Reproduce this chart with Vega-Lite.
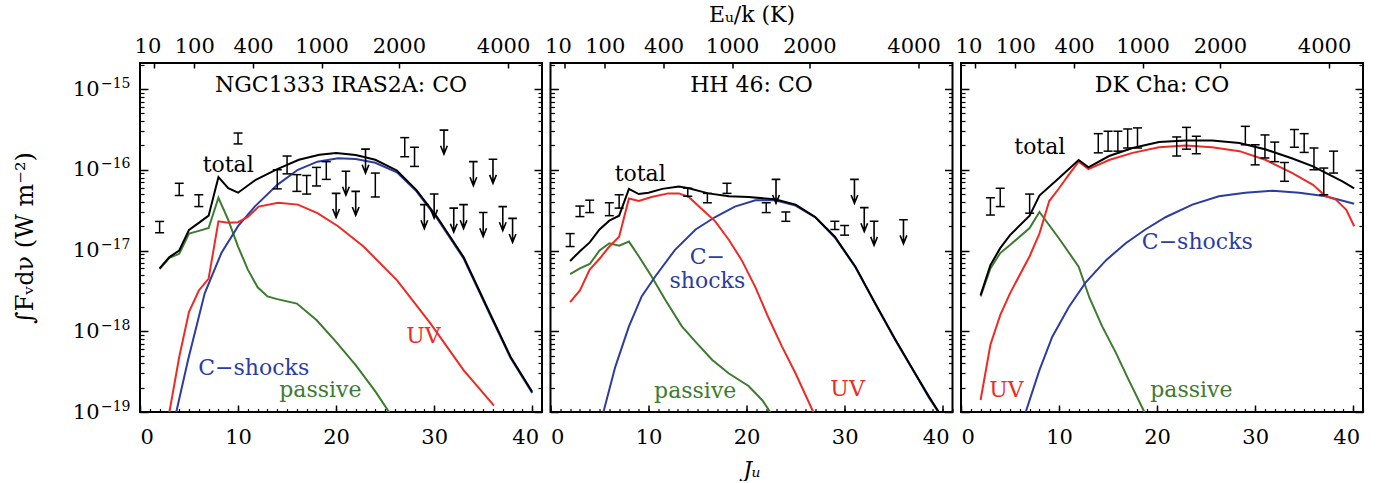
{
"$schema": "https://vega.github.io/schema/vega-lite/v6.json",
"padding": {"left": 12, "top": 2, "right": 5, "bottom": 0},
"background": "white",
"bounds": "flush",
"spacing": 8.5,
"config": {
  "view": {"stroke": "black", "strokeWidth": 2},
  "axis": {"domain": false, "grid": false, "tickColor": "black", "tickWidth": 1.5, "labelColor": "black", "titleColor": "black", "labelFont": "DejaVu Serif", "labelFontSize": 21, "titleFont": "DejaVu Serif", "titleFontSize": 22, "titleFontWeight": "normal"}
},
"datasets": {
"curves": [
{"p":1,"s":"passive","J":2,"F":5.9e-18},{"p":1,"s":"passive","J":3,"F":8.1e-18},{"p":1,"s":"passive","J":4,"F":9.1e-18},{"p":1,"s":"passive","J":5,"F":1.62e-17},{"p":1,"s":"passive","J":6,"F":1.75e-17},{"p":1,"s":"passive","J":7,"F":1.9e-17},{"p":1,"s":"passive","J":8,"F":4.5e-17},{"p":1,"s":"passive","J":9,"F":2.4e-17},{"p":1,"s":"passive","J":10,"F":1.12e-17},{"p":1,"s":"passive","J":11,"F":5.8e-18},{"p":1,"s":"passive","J":12,"F":3.5e-18},{"p":1,"s":"passive","J":13,"F":2.7e-18},{"p":1,"s":"passive","J":14,"F":2.5e-18},{"p":1,"s":"passive","J":16,"F":2.2e-18},{"p":1,"s":"passive","J":18,"F":1.38e-18},{"p":1,"s":"passive","J":20,"F":7.4e-19},{"p":1,"s":"passive","J":22,"F":3.8e-19},{"p":1,"s":"passive","J":24,"F":1.8e-19},{"p":1,"s":"passive","J":25.4,"F":1.0e-19},{"p":1,"s":"passive","J":26,"F":7e-20},
{"p":1,"s":"C-shocks","J":3.5,"F":8e-20},{"p":1,"s":"C-shocks","J":3.7,"F":1.0e-19},{"p":1,"s":"C-shocks","J":4.9,"F":4.4e-19},{"p":1,"s":"C-shocks","J":6.6,"F":2.95e-18},{"p":1,"s":"C-shocks","J":8.3,"F":9.3e-18},{"p":1,"s":"C-shocks","J":10,"F":2.0e-17},{"p":1,"s":"C-shocks","J":11.7,"F":3.5e-17},{"p":1,"s":"C-shocks","J":14,"F":6.5e-17},{"p":1,"s":"C-shocks","J":16.1,"F":1.0e-16},{"p":1,"s":"C-shocks","J":18.1,"F":1.26e-16},{"p":1,"s":"C-shocks","J":20.2,"F":1.39e-16},{"p":1,"s":"C-shocks","J":22,"F":1.36e-16},{"p":1,"s":"C-shocks","J":24,"F":1.22e-16},{"p":1,"s":"C-shocks","J":26.2,"F":9.3e-17},{"p":1,"s":"C-shocks","J":28.2,"F":5.4e-17},{"p":1,"s":"C-shocks","J":30.3,"F":2.5e-17},{"p":1,"s":"C-shocks","J":33,"F":8.0e-18},{"p":1,"s":"C-shocks","J":35.7,"F":1.6e-18},{"p":1,"s":"C-shocks","J":37.8,"F":4.65e-19},{"p":1,"s":"C-shocks","J":40,"F":1.72e-19},
{"p":1,"s":"UV","J":2.9,"F":8e-20},{"p":1,"s":"UV","J":3,"F":1.0e-19},{"p":1,"s":"UV","J":4,"F":4.8e-19},{"p":1,"s":"UV","J":5,"F":1.74e-18},{"p":1,"s":"UV","J":6,"F":3.2e-18},{"p":1,"s":"UV","J":7,"F":4.5e-18},{"p":1,"s":"UV","J":8,"F":2.3e-17},{"p":1,"s":"UV","J":9,"F":2.2e-17},{"p":1,"s":"UV","J":10,"F":2.24e-17},{"p":1,"s":"UV","J":11,"F":2.6e-17},{"p":1,"s":"UV","J":12.1,"F":3.5e-17},{"p":1,"s":"UV","J":14.1,"F":3.9e-17},{"p":1,"s":"UV","J":16.1,"F":3.7e-17},{"p":1,"s":"UV","J":18.1,"F":2.9e-17},{"p":1,"s":"UV","J":20.2,"F":2.0e-17},{"p":1,"s":"UV","J":22.8,"F":1.12e-17},{"p":1,"s":"UV","J":26.2,"F":4.3e-18},{"p":1,"s":"UV","J":29.6,"F":1.26e-18},{"p":1,"s":"UV","J":33,"F":3.3e-19},{"p":1,"s":"UV","J":36.1,"F":1.2e-19},
{"p":1,"s":"total","J":2,"F":6.0e-18},{"p":1,"s":"total","J":3,"F":8.3e-18},{"p":1,"s":"total","J":4,"F":1.0e-17},{"p":1,"s":"total","J":5,"F":1.8e-17},{"p":1,"s":"total","J":6,"F":2.2e-17},{"p":1,"s":"total","J":7,"F":2.7e-17},{"p":1,"s":"total","J":8,"F":8.1e-17},{"p":1,"s":"total","J":9,"F":5.9e-17},{"p":1,"s":"total","J":10,"F":5.2e-17},{"p":1,"s":"total","J":11.8,"F":7.5e-17},{"p":1,"s":"total","J":14,"F":1.02e-16},{"p":1,"s":"total","J":16.2,"F":1.33e-16},{"p":1,"s":"total","J":18.3,"F":1.53e-16},{"p":1,"s":"total","J":20,"F":1.61e-16},{"p":1,"s":"total","J":22,"F":1.52e-16},{"p":1,"s":"total","J":24,"F":1.33e-16},{"p":1,"s":"total","J":26.2,"F":9.8e-17},{"p":1,"s":"total","J":28.2,"F":5.6e-17},{"p":1,"s":"total","J":30.3,"F":2.6e-17},{"p":1,"s":"total","J":33,"F":8.3e-18},{"p":1,"s":"total","J":35.7,"F":1.66e-18},{"p":1,"s":"total","J":37.8,"F":4.8e-19},{"p":1,"s":"total","J":40,"F":1.78e-19},
{"p":2,"s":"passive","J":2,"F":5.1e-18},{"p":2,"s":"passive","J":3,"F":6.0e-18},{"p":2,"s":"passive","J":4,"F":6.8e-18},{"p":2,"s":"passive","J":5,"F":1.0e-17},{"p":2,"s":"passive","J":6,"F":1.23e-17},{"p":2,"s":"passive","J":7,"F":1.15e-17},{"p":2,"s":"passive","J":8,"F":1.29e-17},{"p":2,"s":"passive","J":9,"F":8.5e-18},{"p":2,"s":"passive","J":10.3,"F":4.8e-18},{"p":2,"s":"passive","J":11.7,"F":2.45e-18},{"p":2,"s":"passive","J":13.4,"F":1.15e-18},{"p":2,"s":"passive","J":14.8,"F":7.4e-19},{"p":2,"s":"passive","J":16.5,"F":4.4e-19},{"p":2,"s":"passive","J":18.2,"F":3.0e-19},{"p":2,"s":"passive","J":20.2,"F":2.1e-19},{"p":2,"s":"passive","J":21.6,"F":1.4e-19},{"p":2,"s":"passive","J":22.4,"F":1.0e-19},{"p":2,"s":"passive","J":22.8,"F":8e-20},
{"p":2,"s":"C-shocks","J":5.2,"F":8e-20},{"p":2,"s":"C-shocks","J":5.4,"F":1.0e-19},{"p":2,"s":"C-shocks","J":6.6,"F":3.6e-19},{"p":2,"s":"C-shocks","J":8,"F":1.15e-18},{"p":2,"s":"C-shocks","J":9.3,"F":2.7e-18},{"p":2,"s":"C-shocks","J":10.7,"F":4.8e-18},{"p":2,"s":"C-shocks","J":12.7,"F":1.02e-17},{"p":2,"s":"C-shocks","J":14.8,"F":1.82e-17},{"p":2,"s":"C-shocks","J":16.8,"F":2.6e-17},{"p":2,"s":"C-shocks","J":18.8,"F":3.5e-17},{"p":2,"s":"C-shocks","J":20.9,"F":4.2e-17},{"p":2,"s":"C-shocks","J":22.9,"F":4.2e-17},{"p":2,"s":"C-shocks","J":25,"F":3.6e-17},{"p":2,"s":"C-shocks","J":27,"F":2.57e-17},{"p":2,"s":"C-shocks","J":29,"F":1.45e-17},{"p":2,"s":"C-shocks","J":31.1,"F":6.2e-18},{"p":2,"s":"C-shocks","J":33.1,"F":2.2e-18},{"p":2,"s":"C-shocks","J":35.2,"F":7.6e-19},{"p":2,"s":"C-shocks","J":37.2,"F":2.95e-19},{"p":2,"s":"C-shocks","J":38.6,"F":1.5e-19},{"p":2,"s":"C-shocks","J":39.6,"F":9.8e-20},{"p":2,"s":"C-shocks","J":40,"F":8e-20},
{"p":2,"s":"UV","J":2,"F":2.3e-18},{"p":2,"s":"UV","J":3,"F":3.2e-18},{"p":2,"s":"UV","J":4,"F":5.8e-18},{"p":2,"s":"UV","J":5,"F":7.9e-18},{"p":2,"s":"UV","J":6,"F":1.12e-17},{"p":2,"s":"UV","J":7,"F":1.48e-17},{"p":2,"s":"UV","J":8,"F":4.4e-17},{"p":2,"s":"UV","J":9,"F":4.1e-17},{"p":2,"s":"UV","J":10.3,"F":4.6e-17},{"p":2,"s":"UV","J":12,"F":5.1e-17},{"p":2,"s":"UV","J":13.1,"F":5.1e-17},{"p":2,"s":"UV","J":14.1,"F":4.6e-17},{"p":2,"s":"UV","J":15.4,"F":3.3e-17},{"p":2,"s":"UV","J":16.8,"F":2.3e-17},{"p":2,"s":"UV","J":18.2,"F":1.35e-17},{"p":2,"s":"UV","J":19.5,"F":7.6e-18},{"p":2,"s":"UV","J":20.9,"F":3.5e-18},{"p":2,"s":"UV","J":22.2,"F":1.5e-18},{"p":2,"s":"UV","J":23.6,"F":6.5e-19},{"p":2,"s":"UV","J":25,"F":3.0e-19},{"p":2,"s":"UV","J":26.8,"F":1.0e-19},{"p":2,"s":"UV","J":27.2,"F":8e-20},
{"p":2,"s":"total","J":2,"F":7.4e-18},{"p":2,"s":"total","J":3,"F":9.8e-18},{"p":2,"s":"total","J":4,"F":1.26e-17},{"p":2,"s":"total","J":5,"F":1.82e-17},{"p":2,"s":"total","J":6,"F":2.34e-17},{"p":2,"s":"total","J":7,"F":2.7e-17},{"p":2,"s":"total","J":8,"F":5.8e-17},{"p":2,"s":"total","J":9,"F":5.0e-17},{"p":2,"s":"total","J":10,"F":5.2e-17},{"p":2,"s":"total","J":11.4,"F":5.8e-17},{"p":2,"s":"total","J":13.1,"F":6.2e-17},{"p":2,"s":"total","J":14.1,"F":5.9e-17},{"p":2,"s":"total","J":16.1,"F":5.1e-17},{"p":2,"s":"total","J":18.2,"F":4.7e-17},{"p":2,"s":"total","J":20.2,"F":4.6e-17},{"p":2,"s":"total","J":22.9,"F":4.3e-17},{"p":2,"s":"total","J":25,"F":3.7e-17},{"p":2,"s":"total","J":27,"F":2.6e-17},{"p":2,"s":"total","J":29,"F":1.48e-17},{"p":2,"s":"total","J":31.1,"F":6.3e-18},{"p":2,"s":"total","J":33.1,"F":2.24e-18},{"p":2,"s":"total","J":35.2,"F":7.8e-19},{"p":2,"s":"total","J":37.2,"F":3.0e-19},{"p":2,"s":"total","J":38.6,"F":1.55e-19},{"p":2,"s":"total","J":39.6,"F":1.0e-19},{"p":2,"s":"total","J":40,"F":8e-20},
{"p":3,"s":"passive","J":2,"F":2.7e-18},{"p":3,"s":"passive","J":3,"F":6.0e-18},{"p":3,"s":"passive","J":4,"F":9.3e-18},{"p":3,"s":"passive","J":5,"F":1.17e-17},{"p":3,"s":"passive","J":7,"F":1.9e-17},{"p":3,"s":"passive","J":8,"F":3.0e-17},{"p":3,"s":"passive","J":10,"F":1.41e-17},{"p":3,"s":"passive","J":12,"F":6.3e-18},{"p":3,"s":"passive","J":13.1,"F":2.6e-18},{"p":3,"s":"passive","J":14.4,"F":1.15e-18},{"p":3,"s":"passive","J":15.8,"F":5.4e-19},{"p":3,"s":"passive","J":17.1,"F":2.5e-19},{"p":3,"s":"passive","J":18.7,"F":1.0e-19},{"p":3,"s":"passive","J":19,"F":8e-20},
{"p":3,"s":"C-shocks","J":6.4,"F":8e-20},{"p":3,"s":"C-shocks","J":6.6,"F":1.0e-19},{"p":3,"s":"C-shocks","J":8,"F":3.3e-19},{"p":3,"s":"C-shocks","J":9.3,"F":8.5e-19},{"p":3,"s":"C-shocks","J":11,"F":2.0e-18},{"p":3,"s":"C-shocks","J":12.7,"F":4.0e-18},{"p":3,"s":"C-shocks","J":14.8,"F":7.6e-18},{"p":3,"s":"C-shocks","J":16.8,"F":1.23e-17},{"p":3,"s":"C-shocks","J":18.8,"F":1.82e-17},{"p":3,"s":"C-shocks","J":20.9,"F":2.6e-17},{"p":3,"s":"C-shocks","J":23.6,"F":3.7e-17},{"p":3,"s":"C-shocks","J":26.3,"F":4.7e-17},{"p":3,"s":"C-shocks","J":29,"F":5.2e-17},{"p":3,"s":"C-shocks","J":31.8,"F":5.5e-17},{"p":3,"s":"C-shocks","J":34.5,"F":5.2e-17},{"p":3,"s":"C-shocks","J":37.2,"F":4.7e-17},{"p":3,"s":"C-shocks","J":40.1,"F":3.8e-17},
{"p":3,"s":"UV","J":2,"F":1.41e-19},{"p":3,"s":"UV","J":3,"F":6.8e-19},{"p":3,"s":"UV","J":4,"F":1.58e-18},{"p":3,"s":"UV","J":5,"F":2.95e-18},{"p":3,"s":"UV","J":7,"F":8.5e-18},{"p":3,"s":"UV","J":8,"F":1.62e-17},{"p":3,"s":"UV","J":9,"F":4.1e-17},{"p":3,"s":"UV","J":10,"F":5.9e-17},{"p":3,"s":"UV","J":11,"F":8.7e-17},{"p":3,"s":"UV","J":12,"F":1.26e-16},{"p":3,"s":"UV","J":13,"F":1.02e-16},{"p":3,"s":"UV","J":15.1,"F":1.32e-16},{"p":3,"s":"UV","J":17.5,"F":1.62e-16},{"p":3,"s":"UV","J":20.2,"F":1.9e-16},{"p":3,"s":"UV","J":22.9,"F":2.0e-16},{"p":3,"s":"UV","J":25.6,"F":1.9e-16},{"p":3,"s":"UV","J":28.4,"F":1.7e-16},{"p":3,"s":"UV","J":31.1,"F":1.32e-16},{"p":3,"s":"UV","J":33.8,"F":9.1e-17},{"p":3,"s":"UV","J":35.9,"F":6.5e-17},{"p":3,"s":"UV","J":37.2,"F":4.7e-17},{"p":3,"s":"UV","J":38.2,"F":4.3e-17},{"p":3,"s":"UV","J":39.3,"F":3.2e-17},{"p":3,"s":"UV","J":40.1,"F":2.0e-17},
{"p":3,"s":"total","J":2,"F":2.8e-18},{"p":3,"s":"total","J":3,"F":6.6e-18},{"p":3,"s":"total","J":4,"F":1.07e-17},{"p":3,"s":"total","J":5,"F":1.55e-17},{"p":3,"s":"total","J":7,"F":2.7e-17},{"p":3,"s":"total","J":8,"F":4.8e-17},{"p":3,"s":"total","J":10,"F":7.9e-17},{"p":3,"s":"total","J":12,"F":1.32e-16},{"p":3,"s":"total","J":13,"F":1.07e-16},{"p":3,"s":"total","J":15.1,"F":1.48e-16},{"p":3,"s":"total","J":17.5,"F":1.86e-16},{"p":3,"s":"total","J":20.2,"F":2.2e-16},{"p":3,"s":"total","J":22.9,"F":2.3e-16},{"p":3,"s":"total","J":25.6,"F":2.3e-16},{"p":3,"s":"total","J":28.4,"F":2.14e-16},{"p":3,"s":"total","J":31.1,"F":1.78e-16},{"p":3,"s":"total","J":33.8,"F":1.38e-16},{"p":3,"s":"total","J":35.9,"F":1.1e-16},{"p":3,"s":"total","J":37.9,"F":8.3e-17},{"p":3,"s":"total","J":38.9,"F":7.2e-17},{"p":3,"s":"total","J":40.1,"F":5.9e-17}
],
"obs": [
{"p":1,"J":2,"F":2.0e-17,"lo":1.66e-17,"hi":2.29e-17},{"p":1,"J":4,"F":5.6e-17,"lo":4.8e-17,"hi":6.8e-17},{"p":1,"J":6,"F":4.2e-17,"lo":3.5e-17,"hi":4.9e-17},{"p":1,"J":10,"F":2.45e-16,"lo":2.09e-16,"hi":2.85e-16},{"p":1,"J":14,"F":7.6e-17,"lo":5.8e-17,"hi":1.0e-16},{"p":1,"J":15,"F":1.15e-16,"lo":8.9e-17,"hi":1.48e-16},{"p":1,"J":16,"F":6.9e-17,"lo":5.4e-17,"hi":8.7e-17},{"p":1,"J":17,"F":6.6e-17,"lo":5.0e-17,"hi":8.5e-17},{"p":1,"J":18,"F":8.2e-17,"lo":6.3e-17,"hi":1.07e-16},{"p":1,"J":19,"F":9.8e-17,"lo":7.6e-17,"hi":1.26e-16},{"p":1,"J":24,"F":6.4e-17,"lo":4.6e-17,"hi":9.1e-17},{"p":1,"J":27,"F":1.9e-16,"lo":1.45e-16,"hi":2.5e-16},{"p":1,"J":28,"F":1.45e-16,"lo":1.1e-16,"hi":1.9e-16},
{"p":2,"J":2,"F":1.35e-17,"lo":1.12e-17,"hi":1.62e-17},{"p":2,"J":3,"F":3.0e-17,"lo":2.63e-17,"hi":3.55e-17},{"p":2,"J":4,"F":3.55e-17,"lo":2.95e-17,"hi":4.2e-17},{"p":2,"J":6,"F":3.2e-17,"lo":2.7e-17,"hi":3.9e-17},{"p":2,"J":7,"F":4.1e-17,"lo":3.35e-17,"hi":4.9e-17},{"p":2,"J":14,"F":5.2e-17,"lo":4.7e-17,"hi":5.9e-17},{"p":2,"J":16,"F":4.5e-17,"lo":3.9e-17,"hi":5.1e-17},{"p":2,"J":18,"F":5.9e-17,"lo":5.1e-17,"hi":6.8e-17},{"p":2,"J":22,"F":3.4e-17,"lo":2.95e-17,"hi":3.9e-17},{"p":2,"J":24,"F":2.6e-17,"lo":2.3e-17,"hi":3.0e-17},{"p":2,"J":29,"F":2.05e-17,"lo":1.82e-17,"hi":2.3e-17},{"p":2,"J":30,"F":1.78e-17,"lo":1.55e-17,"hi":2.04e-17},
{"p":3,"J":3,"F":3.5e-17,"lo":2.75e-17,"hi":4.5e-17},{"p":3,"J":4,"F":4.6e-17,"lo":3.5e-17,"hi":5.9e-17},{"p":3,"J":7,"F":3.8e-17,"lo":2.9e-17,"hi":5.0e-17},{"p":3,"J":14,"F":2.1e-16,"lo":1.62e-16,"hi":2.8e-16},{"p":3,"J":15,"F":2.25e-16,"lo":1.7e-16,"hi":3.0e-16},{"p":3,"J":16,"F":2.25e-16,"lo":1.7e-16,"hi":3.0e-16},{"p":3,"J":17,"F":2.45e-16,"lo":1.86e-16,"hi":3.2e-16},{"p":3,"J":18,"F":2.45e-16,"lo":1.86e-16,"hi":3.3e-16},{"p":3,"J":22,"F":1.95e-16,"lo":1.48e-16,"hi":2.55e-16},{"p":3,"J":23,"F":2.45e-16,"lo":1.8e-16,"hi":3.35e-16},{"p":3,"J":24,"F":2.05e-16,"lo":1.58e-16,"hi":2.6e-16},{"p":3,"J":29,"F":2.65e-16,"lo":2.04e-16,"hi":3.45e-16},{"p":3,"J":30,"F":1.55e-16,"lo":1.15e-16,"hi":2.04e-16},{"p":3,"J":31,"F":1.95e-16,"lo":1.4e-16,"hi":2.7e-16},{"p":3,"J":32,"F":1.66e-16,"lo":1.26e-16,"hi":2.2e-16},{"p":3,"J":33,"F":9.4e-17,"lo":7.2e-17,"hi":1.23e-16},{"p":3,"J":34,"F":2.45e-16,"lo":1.9e-16,"hi":3.15e-16},{"p":3,"J":35,"F":2.14e-16,"lo":1.64e-16,"hi":2.8e-16},{"p":3,"J":36,"F":1.35e-16,"lo":1.0e-16,"hi":1.86e-16},{"p":3,"J":37,"F":7.2e-17,"lo":4.9e-17,"hi":1.05e-16},{"p":3,"J":38,"F":1.25e-16,"lo":9.1e-17,"hi":1.7e-16}
],
"lim": [
{"p":1,"J":20,"F":5.1e-17},{"p":1,"J":21,"F":9.6e-17},{"p":1,"J":22,"F":5.4e-17},{"p":1,"J":23,"F":1.8e-16},{"p":1,"J":29,"F":3.7e-17},{"p":1,"J":30,"F":5.0e-17},{"p":1,"J":31,"F":3.1e-16},{"p":1,"J":32,"F":3.35e-17},{"p":1,"J":33,"F":3.7e-17},{"p":1,"J":34,"F":1.26e-16},{"p":1,"J":35,"F":2.95e-17},{"p":1,"J":36,"F":1.35e-16},{"p":1,"J":37,"F":3.5e-17},{"p":1,"J":38,"F":2.5e-17},
{"p":2,"J":23,"F":7.6e-17},{"p":2,"J":31,"F":7.6e-17},{"p":2,"J":32,"F":3.4e-17},{"p":2,"J":33,"F":2.3e-17},{"p":2,"J":36,"F":2.4e-17}
],
"labels": [
{"p":1,"s":"title","J":20.5,"F":9.3e-16,"t":"NGC1333 IRAS2A: CO"},{"p":1,"s":"total","J":9.0,"F":9.5e-17,"t":"total"},{"p":1,"s":"C-shocks","J":11.6,"F":2.9e-19,"t":"C−shocks"},{"p":1,"s":"passive","J":18.4,"F":1.55e-19,"t":"passive"},{"p":1,"s":"UV","J":28.9,"F":7.1e-19,"t":"UV"},
{"p":2,"s":"title","J":20.5,"F":9.3e-16,"t":"HH 46: CO"},{"p":2,"s":"total","J":9.15,"F":7.35e-17,"t":"total"},{"p":2,"s":"C-shocks","J":16.0,"F":6.9e-18,"t":"C−\nshocks"},{"p":2,"s":"passive","J":14.76,"F":1.51e-19,"t":"passive"},{"p":2,"s":"UV","J":30.3,"F":1.57e-19,"t":"UV"},
{"p":3,"s":"title","J":20.5,"F":9.3e-16,"t":"DK Cha: CO"},{"p":3,"s":"total","J":8.04,"F":1.58e-16,"t":"total"},{"p":3,"s":"C-shocks","J":24.1,"F":1.035e-17,"t":"C−shocks"},{"p":3,"s":"UV","J":4.64,"F":1.55e-19,"t":"UV"},{"p":3,"s":"passive","J":23.5,"F":1.55e-19,"t":"passive"}
]
},
"hconcat": [
{
"width": 402, "height": 349,
"resolve": {"scale": {"x": "shared", "y": "shared"}, "axis": {"x": "independent", "y": "independent"}},
"layer": [
{"data": {"name": "curves"}, "transform": [{"filter": "datum.p == 1"}],
 "mark": {"type": "line", "strokeWidth": 2, "clip": true},
 "encoding": {
  "x": {"field": "J", "type": "quantitative", "scale": {"domain": [0, 41], "nice": false, "zero": false},
        "axis": {"orient": "bottom", "values": [0, 10, 20, 30, 40], "ticks": false, "labelPadding": 14, "labelOverlap": false, "labelFlush": false, "labelAlign": {"condition": {"test": "datum.value === 0", "value": "left"}, "value": "center"}, "labelOffset": {"condition": {"test": "datum.value === 40", "value": -7}, "value": 0}, "title": null}},
  "y": {"field": "F", "type": "quantitative", "scale": {"type": "log", "domain": [1e-19, 2.1e-15], "nice": false},
        "axis": {"orient": "left", "values": [1e-19, 1e-18, 1e-17, 1e-16, 1e-15], "ticks": false, "labelExpr": "'10'", "labelPadding": 41, "labelBaseline": "middle", "labelOverlap": false, "labelFlush": false, "title": "∫Fᵥdν (W m⁻²)", "titleX": -115, "titleBaseline": "middle", "titleFontSize": 24}},
  "color": {"field": "s", "type": "nominal", "scale": {"domain": ["passive", "C-shocks", "UV", "total", "title"], "range": ["#3d7b2e", "#2d3c9f", "#ee2a24", "#000000", "#000000"]}, "legend": null}
 }},
{"data": {"name": "obs"}, "transform": [{"filter": "datum.p == 1"}],
 "mark": {"type": "rule", "strokeWidth": 1.5, "color": "black"},
 "encoding": {
  "x": {"field": "J", "type": "quantitative", "axis": {"orient": "bottom", "values": [0, 10, 20, 30, 40], "labels": false, "offset": -7, "tickSize": 7, "title": null}},
  "y": {"field": "lo", "type": "quantitative", "axis": {"orient": "left", "values": [1e-19, 1e-18, 1e-17, 1e-16, 1e-15], "ticks": false, "labelExpr": "'−' + (-round(log(datum.value)/LN10))", "labelPadding": 10, "labelFontSize": 14, "labelOffset": -6, "labelBaseline": "middle", "labelOverlap": false, "labelFlush": false, "title": null}},
  "y2": {"field": "hi"}
 }},
{"data": {"name": "obs"}, "transform": [{"filter": "datum.p == 1"}],
 "mark": {"type": "tick", "orient": "horizontal", "size": 9, "thickness": 1.5, "color": "black", "opacity": 1},
 "encoding": {
  "x": {"field": "J", "type": "quantitative", "axis": {"orient": "bottom", "values": [0,1,2,3,4,5,6,7,8,9,10,11,12,13,14,15,16,17,18,19,20,21,22,23,24,25,26,27,28,29,30,31,32,33,34,35,36,37,38,39,40,41], "labels": false, "offset": -3.5, "tickSize": 3.5, "tickWidth": 1.2, "title": null}},
  "y": {"field": "lo", "type": "quantitative", "axis": {"orient": "left", "values": [1e-19, 1e-18, 1e-17, 1e-16, 1e-15], "labels": false, "offset": -8, "tickSize": 8, "title": null}}
 }},
{"data": {"name": "obs"}, "transform": [{"filter": "datum.p == 1"}],
 "mark": {"type": "tick", "orient": "horizontal", "size": 9, "thickness": 1.5, "color": "black", "opacity": 1},
 "encoding": {
  "x": {"field": "J", "type": "quantitative", "axis": {"orient": "top", "values": [1.467, 5.535, 11.54, 18.52, 26.4, 37.54], "ticks": false, "labelPadding": 11, "labelBaseline": "alphabetic", "labelOverlap": false, "labelFlush": false, "labelExpr": "datum.value < 2 ? '10' : datum.value < 6 ? '100' : datum.value < 12 ? '400' : datum.value < 19 ? '1000' : datum.value < 27 ? '2000' : '4000'", "labelOffset": {"condition": [{"test": "datum.value < 2", "value": -7}, {"test": "datum.value > 37", "value": -5}], "value": 0}, "title": null}},
  "y": {"field": "hi", "type": "quantitative", "axis": {"orient": "left", "values": [2e-19,3e-19,4e-19,5e-19,6e-19,7e-19,8e-19,9e-19,2e-18,3e-18,4e-18,5e-18,6e-18,7e-18,8e-18,9e-18,2e-17,3e-17,4e-17,5e-17,6e-17,7e-17,8e-17,9e-17,2e-16,3e-16,4e-16,5e-16,6e-16,7e-16,8e-16,9e-16,2e-15], "labels": false, "offset": -4, "tickSize": 4, "tickWidth": 1.2, "title": null}}
 }},
{"data": {"name": "lim"}, "transform": [{"filter": "datum.p == 1"}],
 "mark": {"type": "point", "shape": "M-0.36,0L0.36,0M0,0L0,2M-0.28,1.3L0,2L0.28,1.3", "size": 576, "filled": false, "strokeWidth": 1.6, "color": "black", "opacity": 1},
 "encoding": {
  "x": {"field": "J", "type": "quantitative", "axis": {"orient": "top", "values": [1.467, 5.535, 11.54, 18.52, 26.4, 37.54], "labels": false, "offset": -5, "tickSize": 5, "title": null}},
  "y": {"field": "F", "type": "quantitative", "axis": {"orient": "right", "values": [1e-19, 1e-18, 1e-17, 1e-16, 1e-15], "labels": false, "offset": -8, "tickSize": 8, "title": null}}
 }},
{"data": {"name": "labels"}, "transform": [{"filter": "datum.p == 1"}],
 "mark": {"type": "text", "font": "DejaVu Serif", "fontSize": 22, "align": "center", "baseline": "alphabetic", "lineBreak": "\n", "lineHeight": 24},
 "encoding": {
  "x": {"field": "J", "type": "quantitative", "axis": null},
  "y": {"field": "F", "type": "quantitative", "axis": {"orient": "right", "values": [2e-19,3e-19,4e-19,5e-19,6e-19,7e-19,8e-19,9e-19,2e-18,3e-18,4e-18,5e-18,6e-18,7e-18,8e-18,9e-18,2e-17,3e-17,4e-17,5e-17,6e-17,7e-17,8e-17,9e-17,2e-16,3e-16,4e-16,5e-16,6e-16,7e-16,8e-16,9e-16,2e-15], "labels": false, "offset": -4, "tickSize": 4, "tickWidth": 1.2, "title": null}},
  "text": {"field": "t"},
  "color": {"field": "s", "type": "nominal", "scale": {"domain": ["passive", "C-shocks", "UV", "total", "title"], "range": ["#3d7b2e", "#2d3c9f", "#ee2a24", "#000000", "#000000"]}, "legend": null}
 }}
]
},
{
"width": 402, "height": 349,
"resolve": {"scale": {"x": "shared", "y": "shared"}, "axis": {"x": "independent", "y": "independent"}},
"layer": [
{"data": {"name": "curves"}, "transform": [{"filter": "datum.p == 2"}],
 "mark": {"type": "line", "strokeWidth": 2, "clip": true},
 "encoding": {
  "x": {"field": "J", "type": "quantitative", "scale": {"domain": [0, 41], "nice": false, "zero": false},
        "axis": {"orient": "bottom", "values": [0, 10, 20, 30, 40], "ticks": false, "labelPadding": 14, "labelOverlap": false, "labelFlush": false, "labelAlign": {"condition": {"test": "datum.value === 0", "value": "left"}, "value": "center"}, "labelOffset": {"condition": {"test": "datum.value === 40", "value": -7}, "value": 0}, "title": "Jᵤ", "titleY": 64, "titleBaseline": "alphabetic", "titleFontStyle": "italic"}},
  "y": {"field": "F", "type": "quantitative", "scale": {"type": "log", "domain": [1e-19, 2.1e-15], "nice": false}, "axis": null},
  "color": {"field": "s", "type": "nominal", "scale": {"domain": ["passive", "C-shocks", "UV", "total", "title"], "range": ["#3d7b2e", "#2d3c9f", "#ee2a24", "#000000", "#000000"]}, "legend": null}
 }},
{"data": {"name": "obs"}, "transform": [{"filter": "datum.p == 2"}],
 "mark": {"type": "rule", "strokeWidth": 1.5, "color": "black"},
 "encoding": {
  "x": {"field": "J", "type": "quantitative", "axis": {"orient": "bottom", "values": [0, 10, 20, 30, 40], "labels": false, "offset": -7, "tickSize": 7, "title": null}},
  "y": {"field": "lo", "type": "quantitative", "axis": {"orient": "left", "values": [1e-19, 1e-18, 1e-17, 1e-16, 1e-15], "labels": false, "offset": -8, "tickSize": 8, "title": null}},
  "y2": {"field": "hi"}
 }},
{"data": {"name": "obs"}, "transform": [{"filter": "datum.p == 2"}],
 "mark": {"type": "tick", "orient": "horizontal", "size": 9, "thickness": 1.5, "color": "black", "opacity": 1},
 "encoding": {
  "x": {"field": "J", "type": "quantitative", "axis": {"orient": "bottom", "values": [0,1,2,3,4,5,6,7,8,9,10,11,12,13,14,15,16,17,18,19,20,21,22,23,24,25,26,27,28,29,30,31,32,33,34,35,36,37,38,39,40,41], "labels": false, "offset": -3.5, "tickSize": 3.5, "tickWidth": 1.2, "title": null}},
  "y": {"field": "lo", "type": "quantitative", "axis": {"orient": "left", "values": [2e-19,3e-19,4e-19,5e-19,6e-19,7e-19,8e-19,9e-19,2e-18,3e-18,4e-18,5e-18,6e-18,7e-18,8e-18,9e-18,2e-17,3e-17,4e-17,5e-17,6e-17,7e-17,8e-17,9e-17,2e-16,3e-16,4e-16,5e-16,6e-16,7e-16,8e-16,9e-16,2e-15], "labels": false, "offset": -4, "tickSize": 4, "tickWidth": 1.2, "title": null}}
 }},
{"data": {"name": "obs"}, "transform": [{"filter": "datum.p == 2"}],
 "mark": {"type": "tick", "orient": "horizontal", "size": 9, "thickness": 1.5, "color": "black", "opacity": 1},
 "encoding": {
  "x": {"field": "J", "type": "quantitative", "axis": {"orient": "top", "values": [1.467, 5.535, 11.54, 18.52, 26.4, 37.54], "ticks": false, "labelPadding": 11, "labelBaseline": "alphabetic", "labelOverlap": false, "labelFlush": false, "labelExpr": "datum.value < 2 ? '10' : datum.value < 6 ? '100' : datum.value < 12 ? '400' : datum.value < 19 ? '1000' : datum.value < 27 ? '2000' : '4000'", "labelOffset": {"condition": [{"test": "datum.value < 2", "value": -7}, {"test": "datum.value > 37", "value": -5}], "value": 0}, "title": "Eᵤ/k (K)", "titleY": -42, "titleBaseline": "alphabetic"}},
  "y": {"field": "hi", "type": "quantitative", "axis": {"orient": "right", "values": [1e-19, 1e-18, 1e-17, 1e-16, 1e-15], "labels": false, "offset": -8, "tickSize": 8, "title": null}}
 }},
{"data": {"name": "lim"}, "transform": [{"filter": "datum.p == 2"}],
 "mark": {"type": "point", "shape": "M-0.36,0L0.36,0M0,0L0,2M-0.28,1.3L0,2L0.28,1.3", "size": 576, "filled": false, "strokeWidth": 1.6, "color": "black", "opacity": 1},
 "encoding": {
  "x": {"field": "J", "type": "quantitative", "axis": {"orient": "top", "values": [1.467, 5.535, 11.54, 18.52, 26.4, 37.54], "labels": false, "offset": -5, "tickSize": 5, "title": null}},
  "y": {"field": "F", "type": "quantitative", "axis": {"orient": "right", "values": [2e-19,3e-19,4e-19,5e-19,6e-19,7e-19,8e-19,9e-19,2e-18,3e-18,4e-18,5e-18,6e-18,7e-18,8e-18,9e-18,2e-17,3e-17,4e-17,5e-17,6e-17,7e-17,8e-17,9e-17,2e-16,3e-16,4e-16,5e-16,6e-16,7e-16,8e-16,9e-16,2e-15], "labels": false, "offset": -4, "tickSize": 4, "tickWidth": 1.2, "title": null}}
 }},
{"data": {"name": "labels"}, "transform": [{"filter": "datum.p == 2"}],
 "mark": {"type": "text", "font": "DejaVu Serif", "fontSize": 22, "align": "center", "baseline": "alphabetic", "lineBreak": "\n", "lineHeight": 24},
 "encoding": {
  "x": {"field": "J", "type": "quantitative", "axis": null},
  "y": {"field": "F", "type": "quantitative", "axis": null},
  "text": {"field": "t"},
  "color": {"field": "s", "type": "nominal", "scale": {"domain": ["passive", "C-shocks", "UV", "total", "title"], "range": ["#3d7b2e", "#2d3c9f", "#ee2a24", "#000000", "#000000"]}, "legend": null}
 }}
]
},
{
"width": 402, "height": 349,
"resolve": {"scale": {"x": "shared", "y": "shared"}, "axis": {"x": "independent", "y": "independent"}},
"layer": [
{"data": {"name": "curves"}, "transform": [{"filter": "datum.p == 3"}],
 "mark": {"type": "line", "strokeWidth": 2, "clip": true},
 "encoding": {
  "x": {"field": "J", "type": "quantitative", "scale": {"domain": [0, 41], "nice": false, "zero": false},
        "axis": {"orient": "bottom", "values": [0, 10, 20, 30, 40], "ticks": false, "labelPadding": 14, "labelOverlap": false, "labelFlush": false, "labelAlign": {"condition": {"test": "datum.value === 0", "value": "left"}, "value": "center"}, "labelOffset": {"condition": {"test": "datum.value === 40", "value": -7}, "value": 0}, "title": null}},
  "y": {"field": "F", "type": "quantitative", "scale": {"type": "log", "domain": [1e-19, 2.1e-15], "nice": false}, "axis": null},
  "color": {"field": "s", "type": "nominal", "scale": {"domain": ["passive", "C-shocks", "UV", "total", "title"], "range": ["#3d7b2e", "#2d3c9f", "#ee2a24", "#000000", "#000000"]}, "legend": null}
 }},
{"data": {"name": "obs"}, "transform": [{"filter": "datum.p == 3"}],
 "mark": {"type": "rule", "strokeWidth": 1.5, "color": "black"},
 "encoding": {
  "x": {"field": "J", "type": "quantitative", "axis": {"orient": "bottom", "values": [0, 10, 20, 30, 40], "labels": false, "offset": -7, "tickSize": 7, "title": null}},
  "y": {"field": "lo", "type": "quantitative", "axis": {"orient": "left", "values": [1e-19, 1e-18, 1e-17, 1e-16, 1e-15], "labels": false, "offset": -8, "tickSize": 8, "title": null}},
  "y2": {"field": "hi"}
 }},
{"data": {"name": "obs"}, "transform": [{"filter": "datum.p == 3"}],
 "mark": {"type": "tick", "orient": "horizontal", "size": 9, "thickness": 1.5, "color": "black", "opacity": 1},
 "encoding": {
  "x": {"field": "J", "type": "quantitative", "axis": {"orient": "bottom", "values": [0,1,2,3,4,5,6,7,8,9,10,11,12,13,14,15,16,17,18,19,20,21,22,23,24,25,26,27,28,29,30,31,32,33,34,35,36,37,38,39,40,41], "labels": false, "offset": -3.5, "tickSize": 3.5, "tickWidth": 1.2, "title": null}},
  "y": {"field": "lo", "type": "quantitative", "axis": {"orient": "left", "values": [2e-19,3e-19,4e-19,5e-19,6e-19,7e-19,8e-19,9e-19,2e-18,3e-18,4e-18,5e-18,6e-18,7e-18,8e-18,9e-18,2e-17,3e-17,4e-17,5e-17,6e-17,7e-17,8e-17,9e-17,2e-16,3e-16,4e-16,5e-16,6e-16,7e-16,8e-16,9e-16,2e-15], "labels": false, "offset": -4, "tickSize": 4, "tickWidth": 1.2, "title": null}}
 }},
{"data": {"name": "obs"}, "transform": [{"filter": "datum.p == 3"}],
 "mark": {"type": "tick", "orient": "horizontal", "size": 9, "thickness": 1.5, "color": "black", "opacity": 1},
 "encoding": {
  "x": {"field": "J", "type": "quantitative", "axis": {"orient": "top", "values": [1.467, 5.535, 11.54, 18.52, 26.4, 37.54], "ticks": false, "labelPadding": 11, "labelBaseline": "alphabetic", "labelOverlap": false, "labelFlush": false, "labelExpr": "datum.value < 2 ? '10' : datum.value < 6 ? '100' : datum.value < 12 ? '400' : datum.value < 19 ? '1000' : datum.value < 27 ? '2000' : '4000'", "labelOffset": {"condition": [{"test": "datum.value < 2", "value": -7}, {"test": "datum.value > 37", "value": -5}], "value": 0}, "title": null}},
  "y": {"field": "hi", "type": "quantitative", "axis": {"orient": "right", "values": [1e-19, 1e-18, 1e-17, 1e-16, 1e-15], "labels": false, "offset": -8, "tickSize": 8, "title": null}}
 }},
{"data": {"name": "labels"}, "transform": [{"filter": "datum.p == 3"}],
 "mark": {"type": "text", "font": "DejaVu Serif", "fontSize": 22, "align": "center", "baseline": "alphabetic", "lineBreak": "\n", "lineHeight": 24},
 "encoding": {
  "x": {"field": "J", "type": "quantitative", "axis": {"orient": "top", "values": [1.467, 5.535, 11.54, 18.52, 26.4, 37.54], "labels": false, "offset": -5, "tickSize": 5, "title": null}},
  "y": {"field": "F", "type": "quantitative", "axis": {"orient": "right", "values": [2e-19,3e-19,4e-19,5e-19,6e-19,7e-19,8e-19,9e-19,2e-18,3e-18,4e-18,5e-18,6e-18,7e-18,8e-18,9e-18,2e-17,3e-17,4e-17,5e-17,6e-17,7e-17,8e-17,9e-17,2e-16,3e-16,4e-16,5e-16,6e-16,7e-16,8e-16,9e-16,2e-15], "labels": false, "offset": -4, "tickSize": 4, "tickWidth": 1.2, "title": null}},
  "text": {"field": "t"},
  "color": {"field": "s", "type": "nominal", "scale": {"domain": ["passive", "C-shocks", "UV", "total", "title"], "range": ["#3d7b2e", "#2d3c9f", "#ee2a24", "#000000", "#000000"]}, "legend": null}
 }}
]
}
]
}
